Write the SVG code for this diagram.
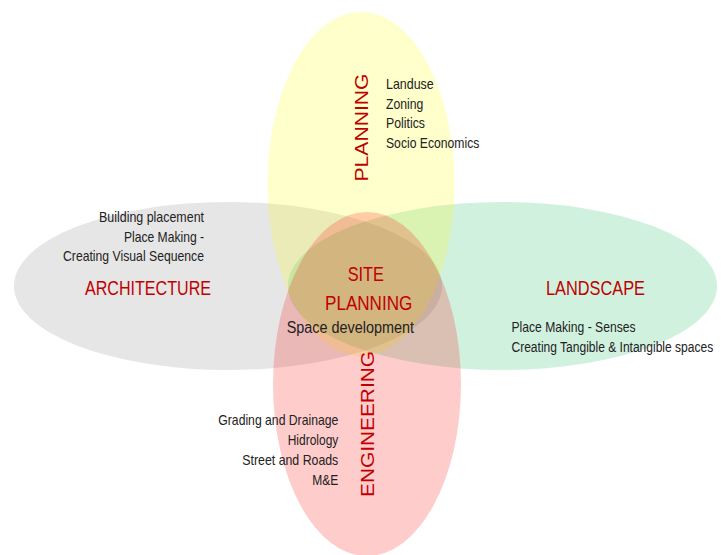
<svg xmlns="http://www.w3.org/2000/svg" width="721" height="555" viewBox="0 0 721 555">
  <style>
    .petal { stroke: none; }
    .gray { fill: #808080; fill-opacity: 0.2; }
    .green { fill: #00b050; fill-opacity: 0.18; }
    .yellow { fill: #ffff00; fill-opacity: 0.2; }
    .pink { fill: #ff0000; fill-opacity: 0.2; }
    text { font-family: "Liberation Sans", Arial, sans-serif; }
    .title { font-size: 21px; fill: #c00000; }
    .vtitle { font-size: 19px; fill: #c00000; }
    .item { font-size: 14.5px; fill: #222222; }
  </style>
  <rect width="721" height="555" fill="#ffffff"/>

  <!-- four overlapping disciplines -->
  <g id="architecture">
    <ellipse class="petal gray" cx="228" cy="286" rx="214" ry="84"/>
  </g>
  <g id="landscape">
    <ellipse class="petal green" cx="502.5" cy="286" rx="214.5" ry="84"/>
  </g>
  <g id="planning">
    <ellipse class="petal yellow" cx="361" cy="184" rx="93.5" ry="172"/>
  </g>
  <g id="engineering">
    <ellipse class="petal pink" cx="367" cy="384" rx="94" ry="172"/>
  </g>

  <!-- labels -->
  <g id="architecture-text">
    <text class="item" x="99" y="221.5" textLength="105" lengthAdjust="spacingAndGlyphs">Building placement</text>
    <text class="item" x="124" y="241.5" textLength="80" lengthAdjust="spacingAndGlyphs">Place Making -</text>
    <text class="item" x="63" y="261" textLength="141" lengthAdjust="spacingAndGlyphs">Creating Visual Sequence</text>
    <text class="title" x="85" y="294.5" textLength="126" lengthAdjust="spacingAndGlyphs">ARCHITECTURE</text>
  </g>
  <g id="landscape-text">
    <text class="title" x="546" y="294.5" textLength="99" lengthAdjust="spacingAndGlyphs">LANDSCAPE</text>
    <text class="item" x="511.5" y="331.5" textLength="124" lengthAdjust="spacingAndGlyphs">Place Making - Senses</text>
    <!-- long line condensed with a horizontal scale -->
    <text class="item" transform="translate(511.5 351.5) scale(0.83 1)">Creating Tangible &amp; Intangible spaces</text>
  </g>
  <g id="planning-text">
    <text transform="translate(368 181.5) rotate(-90)" class="vtitle" textLength="108" lengthAdjust="spacingAndGlyphs">PLANNING</text>
    <text class="item" x="386" y="88.5" textLength="47.7" lengthAdjust="spacingAndGlyphs">Landuse</text>
    <text class="item" x="386" y="108.5" textLength="37.3" lengthAdjust="spacingAndGlyphs">Zoning</text>
    <text class="item" x="386" y="128" textLength="39" lengthAdjust="spacingAndGlyphs">Politics</text>
    <text class="item" x="386" y="147.5" textLength="93.3" lengthAdjust="spacingAndGlyphs">Socio Economics</text>
  </g>
  <g id="engineering-text">
    <text transform="translate(374 497) rotate(-90)" class="vtitle" textLength="146" lengthAdjust="spacingAndGlyphs">ENGINEERING</text>
    <text class="item" x="218.3" y="425" textLength="120" lengthAdjust="spacingAndGlyphs">Grading and Drainage</text>
    <text class="item" x="287.7" y="445" textLength="50.6" lengthAdjust="spacingAndGlyphs">Hidrology</text>
    <text class="item" x="242.3" y="465" textLength="96" lengthAdjust="spacingAndGlyphs">Street and Roads</text>
    <text class="item" x="312.3" y="485" textLength="26" lengthAdjust="spacingAndGlyphs">M&amp;E</text>
  </g>
  <g id="site-planning">
    <text class="title" x="347.7" y="280.5" textLength="36.3" lengthAdjust="spacingAndGlyphs">SITE</text>
    <text class="title" x="325" y="310" textLength="87.3" lengthAdjust="spacingAndGlyphs">PLANNING</text>
    <text class="item" x="286.7" y="333" style="font-size:16px" textLength="127.3" lengthAdjust="spacingAndGlyphs">Space development</text>
  </g>
</svg>
